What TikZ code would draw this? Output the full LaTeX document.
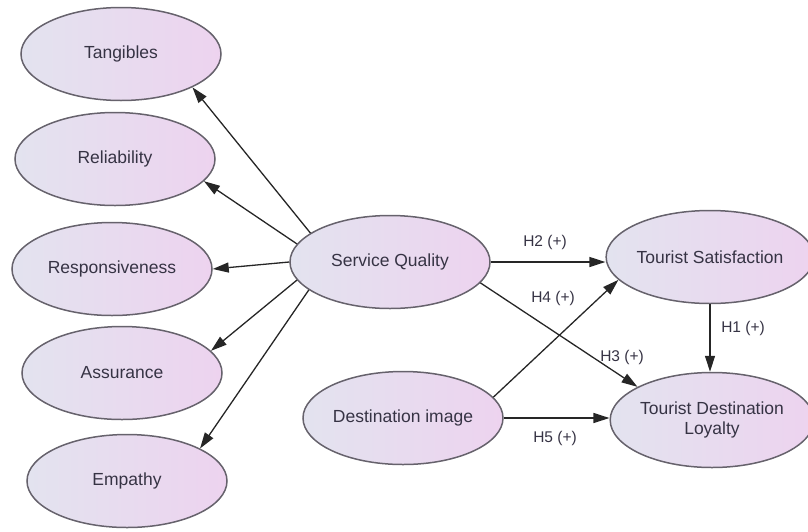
\documentclass[tikz,border=0pt]{standalone}
\usepackage{fontspec}
\setmainfont{Liberation Sans}
\usetikzlibrary{arrows.meta,shapes.geometric}

\definecolor{lineGray}{HTML}{66626C}
\definecolor{txtGray}{HTML}{363344}
\definecolor{fillLeft}{HTML}{E3E3EF}
\definecolor{fillRight}{HTML}{EDD3EF}

\begin{document}
\begin{tikzpicture}[x=1pt, y=-1pt,
  construct/.style={ellipse, draw=lineGray, line width=1.5pt, left color=fillLeft, right color=fillRight,
    minimum width=200pt, minimum height=93pt, inner sep=0pt, align=center,
    text=txtGray, font=\fontsize{17.5}{19.5}\selectfont},
  hyp/.style={text=txtGray, font=\fontsize{15.5}{17}\selectfont, inner sep=1pt},
  arrow/.style={-{Triangle[length=16pt,width=10pt]}, line width=1.3pt, draw=black!85}
]
\useasboundingbox (0,0) rectangle (808,531);

% dimensions of service quality
\node[construct] (tang) at (121,54) {Tangibles};
\node[construct] (reli) at (115,159) {Reliability};
\node[construct] (resp) at (112,269) {Responsiveness};
\node[construct] (assu) at (122,373) {Assurance};
\node[construct] (empa) at (127,481) {Empathy};

% main constructs
\node[construct] (sq) at (390,262) {Service Quality};
\node[construct] (di) at (403,418) {Destination image};
\node[construct, minimum width=198pt] (ts) at (710,257) {Tourist Satisfaction};
\node[construct, minimum width=194pt, minimum height=95pt] (tdl) at (712,420) {Tourist Destination\\Loyalty};

% service quality to dimensions
\draw[arrow] (sq.160) -- (tang.-25);
\draw[arrow] (sq.169) -- (reli.-14);
\draw[arrow] (sq.180) -- (resp.0);
\draw[arrow] (sq.191) -- (assu.14);
\draw[arrow] (sq.199) -- (empa.24);

% hypotheses
\draw[arrow] (sq.east) -- (sq.east -| ts.west);
\draw[arrow] (sq.-13) -- (tdl.156);
\draw[arrow] (di.13) -- (ts.194);
\draw[arrow] (di.east) -- (di.east -| tdl.west);
\draw[arrow] (ts.south) -- (ts.south |- tdl.north);

\node[hyp] (h2) at (545,242) {H2 (+)};
\node[hyp] (h4) at (553,298) {H4 (+)};
\node[hyp] (h3) at (622,357) {H3 (+)};
\node[hyp] (h1) at (743,328) {H1 (+)};
\node[hyp] (h5) at (555,438) {H5 (+)};
\end{tikzpicture}
\end{document}
